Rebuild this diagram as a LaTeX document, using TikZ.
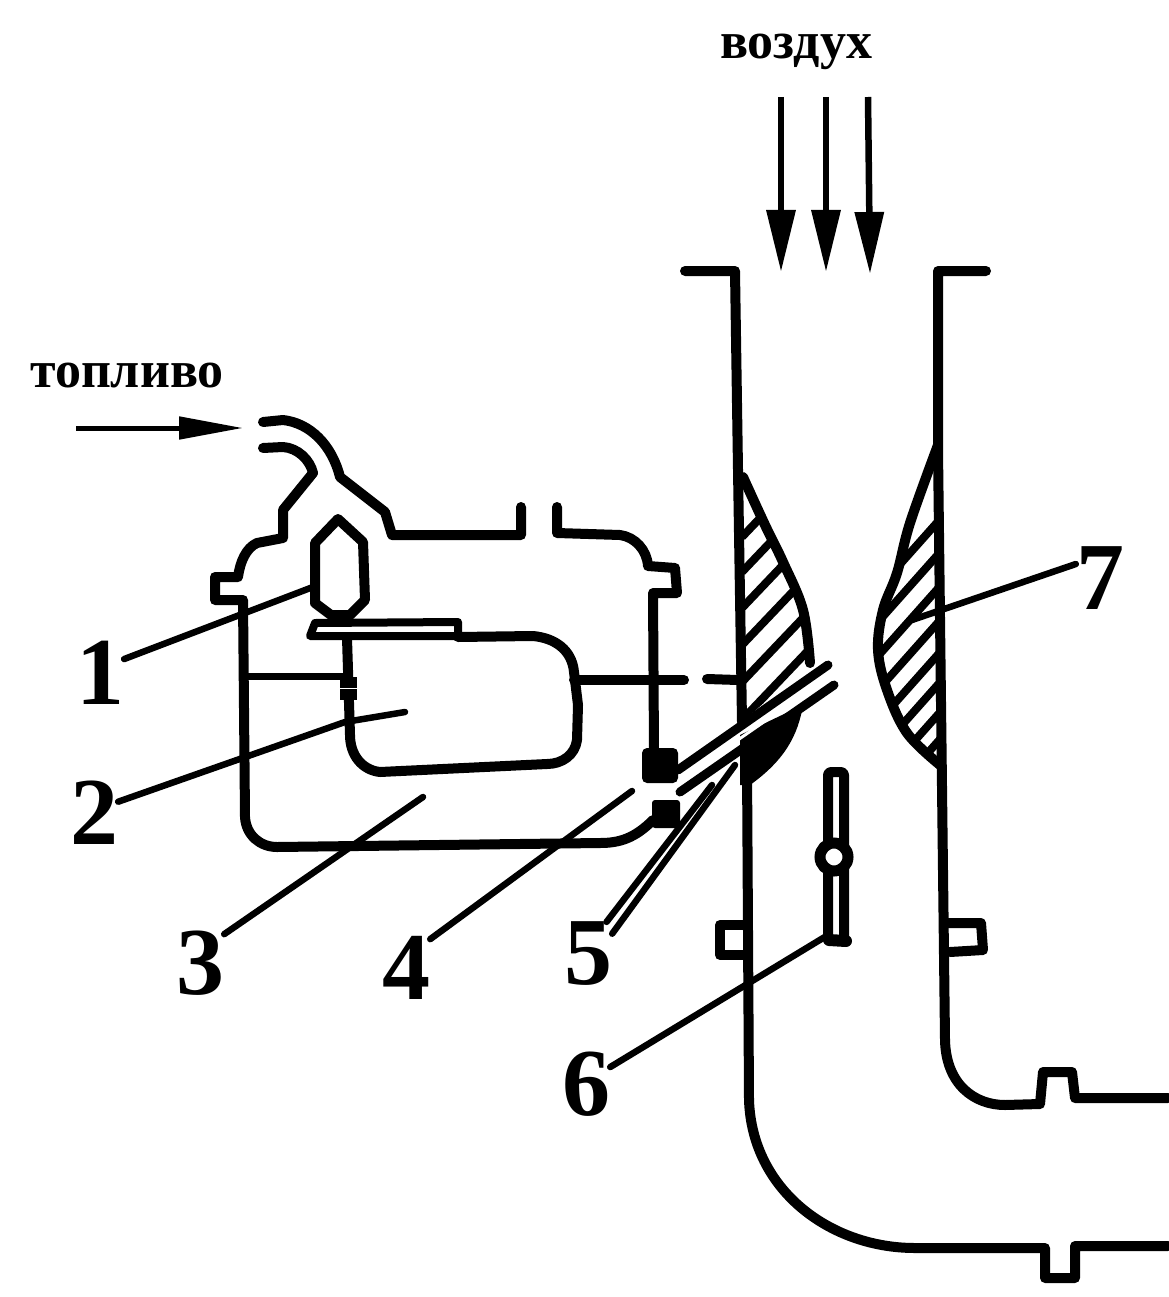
\documentclass[tikz,border=0pt]{standalone}
\usepackage{fontspec}
\setmainfont{Liberation Serif}
\usetikzlibrary{arrows.meta}
\tikzset{>={Triangle[length=62pt,width=28pt]},
wall/.style={line width=10pt,line join=round,line cap=round},
hatch/.style={line width=8pt},
leader/.style={line width=6.5pt,line cap=round,line join=round},
flow/.style={->,line width=6.5pt},
num/.style={font=\fontsize{96}{96}\selectfont\bfseries,inner sep=0pt},
word/.style={font=\fontsize{52}{52}\selectfont\bfseries,inner sep=0pt}}

\begin{document}
\begin{tikzpicture}[x=1pt,y=-1pt]
\useasboundingbox (0,0) rectangle (1168,1297);
\node[word] (air) at (796,52) {воздух};
\node[word] (fuel) at (127,376) {топливо};
\node[num] (lab1) at (100,673) {1};
\node[num] (lab2) at (94,813) {2};
\node[num] (lab3) at (200,963) {3};
\node[num] (lab4) at (406,968) {4};
\node[num] (lab5) at (588,954) {5};
\node[num] (lab6) at (586,1084) {6};
\node[num] (lab7) at (1100,578) {7};
\coordinate (tip1) at (313,587);
\coordinate (tip2) at (345,722);
\coordinate (tip3) at (423,797);
\coordinate (tip4) at (632,791);
\coordinate (tip5) at (712,785);
\coordinate (tip6) at (828,935);
\coordinate (tip7) at (912,620);
%hatched throat
\begin{scope}
\clip (742,470) -- (783,562) -- (803,610) -- (810,663) -- (742,722) -- cycle;
\foreach \y in {537,572,608,645,682,720}
\draw[hatch] (742,\y) -- ++(80,-84);
\end{scope}
\begin{scope}
\clip plot[smooth,tension=.6] coordinates {(938,445) (910,523) (897,573) (883,610) (878,650) (887,690) (907,733) (940,765)} -- cycle;
\foreach \y in {517,550,584,618,650,680,710,737}
\draw[hatch] (942,\y) -- ++(-80,90);
\end{scope}
%venturi
\draw[wall] (685,271) -- (735,271) -- (738,470) -- (742,722);
\draw[wall] (747,765) -- (749,1100) .. controls (752,1190) and (830,1248) .. (915,1248) -- (1045,1248) -- (1045,1278) -- (1075,1278) -- (1075,1246) -- (1168,1246);
\draw[wall] (986,271) -- (938,271) -- (938,450) -- (945,1040) .. controls (946,1085) and (975,1105) .. (1005,1105) -- (1040,1104) -- (1043,1072) -- (1072,1072) -- (1075,1098) -- (1168,1098);
\draw[wall] (743,925) -- (720,925) -- (720,955) -- (745,955);
\draw[wall] (948,923) -- (981,923) -- (983,950) -- (950,952);
\draw[wall] plot[smooth,tension=.6] coordinates {(743,477) (765,525) (783,562) (803,610) (810,663)};
\draw[wall] plot[smooth,tension=.6] coordinates {(938,445) (910,523) (897,573) (883,610) (878,650) (887,690) (907,733) (940,765)};
\fill (740,735) -- (803,705) .. controls (798,735) and (785,760) .. (750,785) -- (740,785) -- cycle;
%slot
\draw[wall,line width=9pt] (678,770) -- (828,665);
\draw[wall,line width=9pt] (680,792) -- (834,685);
\draw[wall,white,line width=3pt,line cap=butt] (693,771) -- (820,683);
%fuel pipe and chamber
\draw[wall] (263,422) -- (283,420) .. controls (310,423) and (332,445) .. (340,477) -- (385,512) -- (392,535) -- (521,535) -- (521,507);
\draw[wall] (557,507) -- (557,533) -- (620,535) .. controls (635,537) and (647,550) .. (648,566) -- (675,568) -- (677,593) -- (653,593) -- (654,752);
\draw[wall] (263,448) -- (283,447) .. controls (298,448) and (310,460) .. (313,473) -- (283,510) -- (283,538) -- (257,543) .. controls (246,548) and (240,562) .. (238,577) -- (215,577) -- (215,600) -- (243,600) -- (245,817) .. controls (246,835) and (260,847) .. (277,847) -- (600,843) .. controls (620,843) and (635,838) .. (653,820);
\fill[rounded corners=5pt] (642,748) rectangle (678,783);
\fill[rounded corners=3pt] (652,800) rectangle (680,828);
%float
\draw[wall] (338,519) -- (363,542) -- (365,600) -- (350,615) -- (331,615) -- (315,603) -- (315,543) -- cycle;
\draw[wall,line width=8pt] (458,622) -- (315,623) -- (310,636) -- (458,636) -- cycle;
\draw[wall] (458,637) -- (533,636) .. controls (555,638) and (572,650) .. (574,672) -- (578,705) -- (577,740) .. controls (575,755) and (562,764) .. (547,764) -- (380,772) .. controls (362,770) and (350,755) .. (350,735) -- (347,638);
\draw[line width=7pt] (245,676) -- (345,676);
\fill (340,677) rectangle (357,700);
\draw[white,line width=1pt] (340,688) -- (357,688);
%pipe to throat
\draw[wall] (574,680) -- (684,680);
\draw[wall] (707,679) -- (738,680);
%throttle
\draw[wall,fill=white,rounded corners=3pt] (828,772) rectangle (844,940);
\draw[line width=12pt,line cap=round] (829,940) -- (846,941);
\draw[line width=11pt,fill=white] (834,857) circle (14);
%flows
\draw[flow] (781,97) -- (781,272);
\draw[flow] (826,97) -- (826,272);
\draw[flow] (868,97) -- (870,274);
\draw[->,>={Triangle[length=64pt,width=22pt]},line width=5pt] (76,428) -- (243,428);
%leaders
\draw[leader] (lab1.30) -- (tip1);
\draw[leader] (lab2.25) -- (tip2) -- (405,712);
\draw[leader] (lab3.50) -- (tip3);
\draw[leader] (lab4.50) -- (tip4);
\draw[leader] (lab5.60) -- (tip5);
\draw[leader] (lab5.40) -- (735,765);
\draw[leader] (lab6.35) -- (tip6);
\draw[leader] (lab7.150) -- (tip7);
\end{tikzpicture}
\end{document}
